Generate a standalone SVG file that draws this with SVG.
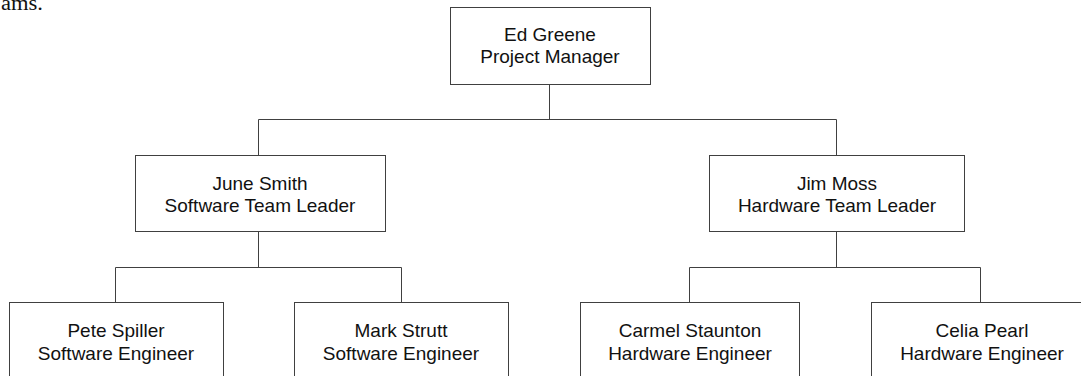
<svg xmlns="http://www.w3.org/2000/svg" width="1081" height="376" viewBox="0 0 1081 376">
<style>
.box{fill:#fff;stroke:#404040;stroke-width:1}
.t{font-family:"Liberation Sans",Arial,sans-serif;font-size:19px;fill:#111;text-anchor:middle}
.c{fill:none;stroke:#404040;stroke-width:1}
.frag{font-family:"Liberation Serif","Times New Roman",serif;font-size:20px;fill:#111}
</style>
<rect width="1081" height="376" fill="#fff"/>
<text class="frag" x="1" y="10" textLength="42" lengthAdjust="spacingAndGlyphs">ams.</text>
<g id="connectors">
<path class="c" d="M549.5 84 V119.5 M258.5 155 V119.5 H836.5 V155"/>
<path class="c" d="M258.5 231 V267.5 M115.5 302 V267.5 H401.5 V302"/>
<path class="c" d="M836.5 231 V267.5 M689.5 303 V267.5 H980.5 V303"/>
</g>
<g id="ed">
<rect class="box" x="450.5" y="7.5" width="200" height="77"/>
<text class="t" x="550" y="41">Ed Greene</text>
<text class="t" x="550" y="63">Project Manager</text>
</g>
<g id="june">
<rect class="box" x="135.5" y="155.5" width="250" height="76"/>
<text class="t" x="260" y="190">June Smith</text>
<text class="t" x="260" y="212">Software Team Leader</text>
</g>
<g id="jim">
<rect class="box" x="709.5" y="155.5" width="255" height="76"/>
<text class="t" x="837" y="190">Jim Moss</text>
<text class="t" x="837" y="212">Hardware Team Leader</text>
</g>
<g id="pete">
<rect class="box" x="9.5" y="302.5" width="214" height="90"/>
<text class="t" x="116" y="337">Pete Spiller</text>
<text class="t" x="116" y="360">Software Engineer</text>
</g>
<g id="mark">
<rect class="box" x="294.5" y="302.5" width="214" height="90"/>
<text class="t" x="401" y="337">Mark Strutt</text>
<text class="t" x="401" y="360">Software Engineer</text>
</g>
<g id="carmel">
<rect class="box" x="580.5" y="302.5" width="219" height="90"/>
<text class="t" x="690" y="337">Carmel Staunton</text>
<text class="t" x="690" y="360">Hardware Engineer</text>
</g>
<g id="celia">
<rect class="box" x="871.5" y="302.5" width="220" height="90"/>
<text class="t" x="982" y="337">Celia Pearl</text>
<text class="t" x="982" y="360">Hardware Engineer</text>
</g>
</svg>
